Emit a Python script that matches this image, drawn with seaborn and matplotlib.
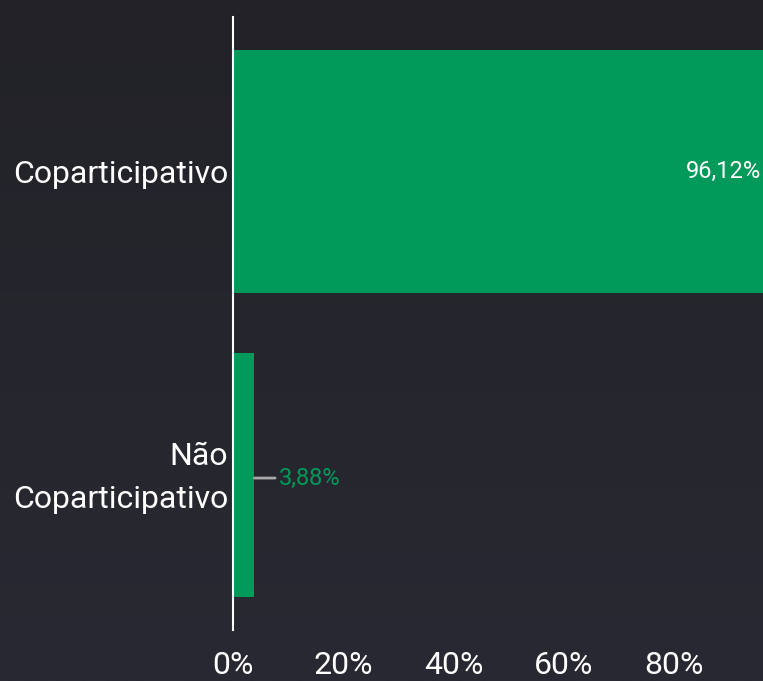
import numpy as np
import pandas as pd
import matplotlib
matplotlib.use('Agg')
import matplotlib.pyplot as plt
import matplotlib.transforms as mtransforms
from matplotlib.colors import LinearSegmentedColormap
import seaborn as sns

# data
categories = ['Coparticipativo', 'Não\nCoparticipativo']
percentages = [96.12, 3.88]
value_labels = ['96,12%', '3,88%']
tick_values = [0, 20, 40, 60, 80]
tick_labels = ['0%', '20%', '40%', '60%', '80%']

green = '#019a5a'
df = pd.DataFrame({'tipo': categories, 'pct': percentages})

sns.set_style('dark')
plt.rcParams['font.family'] = ['Roboto', 'DejaVu Sans']

fig = plt.figure(figsize=(7.63, 6.81), dpi=100)

# background gradient
bg = fig.add_axes([0, 0, 1, 1], zorder=-1)
grad = np.linspace(0, 1, 256).reshape(-1, 1)
bg_cmap = LinearSegmentedColormap.from_list('bg', ['#222228', '#292933'])
bg.imshow(grad, aspect='auto', cmap=bg_cmap)
bg.axis('off')

ax = fig.add_axes([233 / 763, 1 - 630 / 681, 530 / 763, 613 / 681])
ax.set_facecolor('none')
sns.barplot(data=df, x='pct', y='tipo', orient='h', color=green, saturation=1,
            width=0.8, edgecolor='none', linewidth=0, ax=ax)

ax.set_xlim(0, 96.12)
ax.set_ylim(1.51, -0.507)
ax.set_xticks(tick_values)
ax.set_xticklabels(tick_labels)
ax.set_xlabel('')
ax.set_ylabel('')
ax.grid(False)
ax.tick_params(axis='x', length=0, pad=15, labelsize=23, colors='white')
ax.tick_params(axis='y', length=0, pad=3.6, labelsize=23, colors='white')
for lbl in ax.get_yticklabels():
    lbl.set_horizontalalignment('right')
    lbl.set_multialignment('right')
    lbl.set_linespacing(1.6)
    lbl.set_verticalalignment('center_baseline')
# nudge the two-line label up a little
two_line = ax.get_yticklabels()[1]
two_line.set_transform(two_line.get_transform() +
                       mtransforms.ScaledTranslation(0, 0.07, fig.dpi_scale_trans))

for s in ['top', 'right', 'bottom']:
    ax.spines[s].set_visible(False)
ax.spines['left'].set_color('white')
ax.spines['left'].set_linewidth(1.5)

# value labels
ax.text(percentages[0] - 0.3, 0, value_labels[0], ha='right', va='center',
        color='white', fontsize=17)
ax.annotate(value_labels[1], xy=(percentages[1], 1.01), xytext=(24, 0),
            textcoords='offset pixels', ha='left', va='center',
            color=green, fontsize=17,
            arrowprops=dict(arrowstyle='-', color='#a8a8a8', lw=2,
                            shrinkA=0, shrinkB=0))

fig.savefig('out.png', dpi=100, facecolor='#25252d')
